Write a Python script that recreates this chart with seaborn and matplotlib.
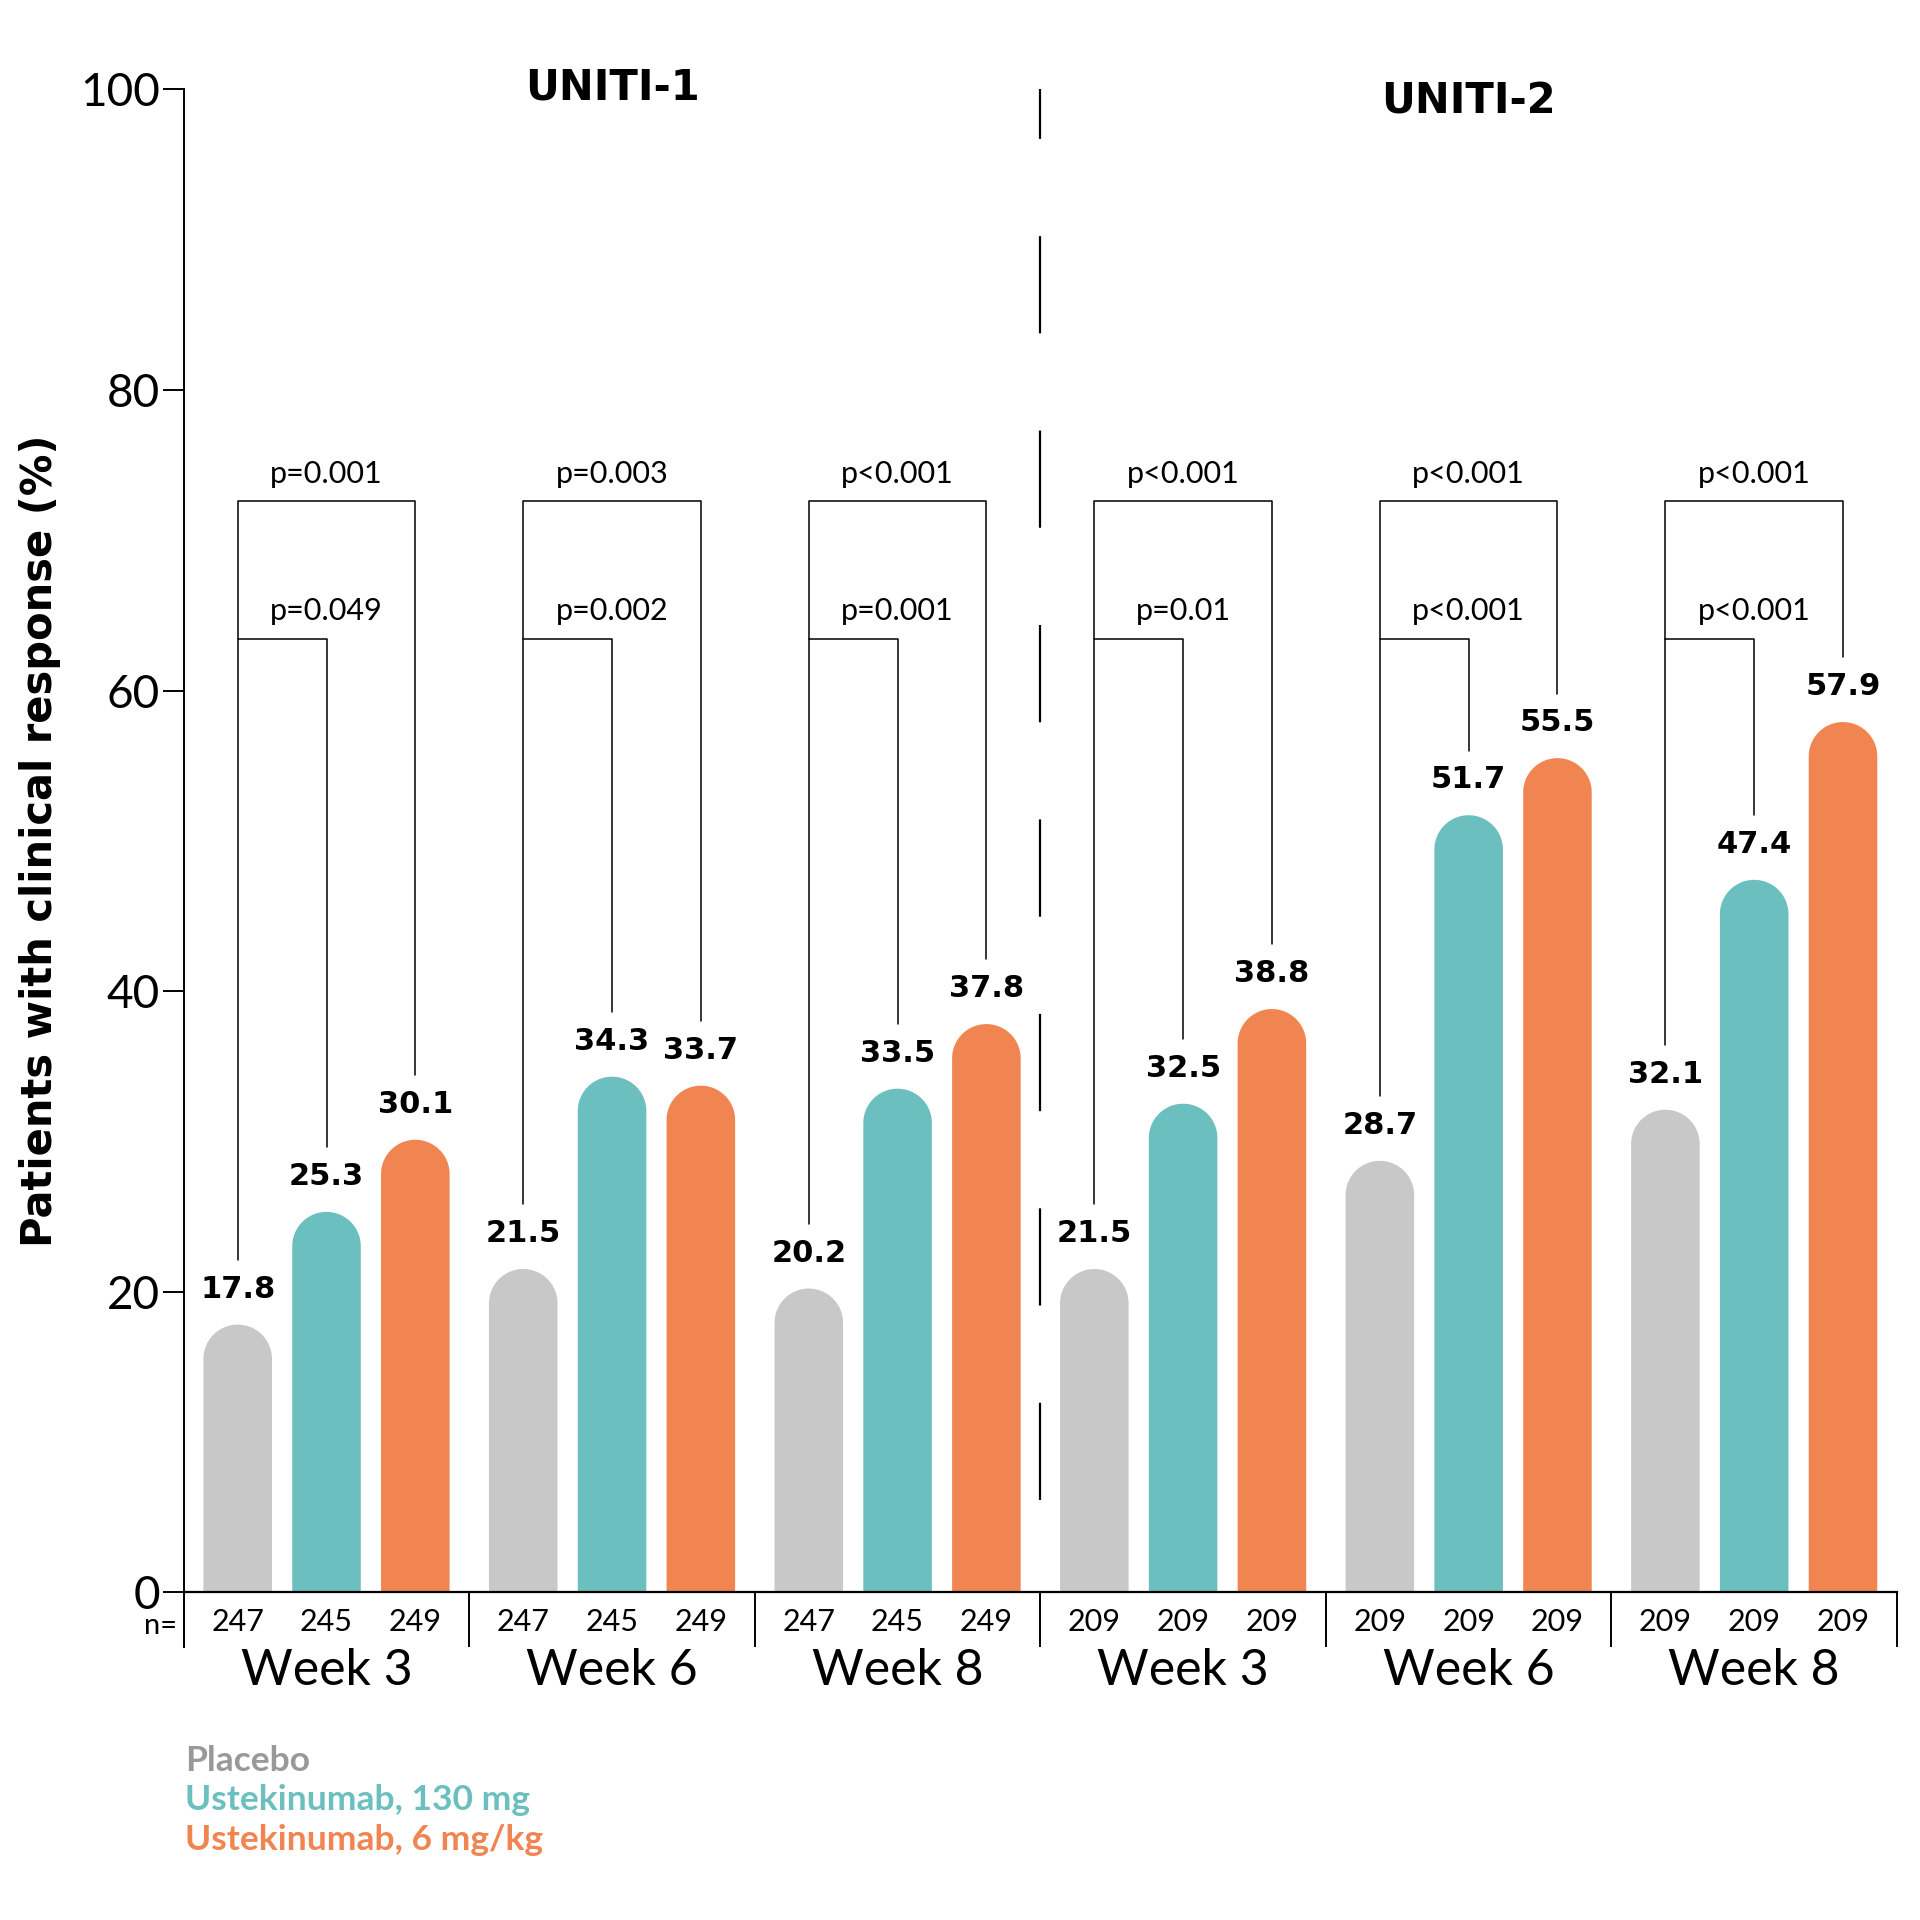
import numpy as np
import pandas as pd
import matplotlib
matplotlib.use("Agg")
import matplotlib.pyplot as plt
from matplotlib.path import Path
from matplotlib.patches import PathPatch
import seaborn as sns

# ---------------- data ----------------
groups = ["U1 W3", "U1 W6", "U1 W8", "U2 W3", "U2 W6", "U2 W8"]
week_labels = ["Week 3", "Week 6", "Week 8", "Week 3", "Week 6", "Week 8"]
treatments = ["Placebo", "Ustekinumab, 130 mg", "Ustekinumab, 6 mg/kg"]
placebo = [17.8, 21.5, 20.2, 21.5, 28.7, 32.1]
ust_130 = [25.3, 34.3, 33.5, 32.5, 51.7, 47.4]
ust_6 = [30.1, 33.7, 37.8, 38.8, 55.5, 57.9]
n_placebo = [247, 247, 247, 209, 209, 209]
n_130 = [245, 245, 245, 209, 209, 209]
n_6 = [249, 249, 249, 209, 209, 209]
p_outer = ["p=0.001", "p=0.003", "p<0.001", "p<0.001", "p<0.001", "p<0.001"]
p_inner = ["p=0.049", "p=0.002", "p=0.001", "p=0.01", "p<0.001", "p<0.001"]
trials = ["UNITI-1", "UNITI-2"]
y_ticks = [0, 20, 40, 60, 80, 100]

bar_colors = ["#c8c8c8", "#6bbfbf", "#f08551"]
legend_colors = ["#999999", "#6bbfbf", "#f08551"]

# --------------- figure ---------------
sns.set_style("white")
plt.rcParams["font.family"] = ["Lato", "DejaVu Sans"]
plt.rcParams["lines.scale_dashes"] = False
for key in ["text.color", "axes.labelcolor", "xtick.color", "ytick.color", "axes.edgecolor"]:
    plt.rcParams[key] = "black"

COND = ["Liberation Sans Narrow", "DejaVu Sans"]
THIN = ["Lato", "DejaVu Sans"]

fig = plt.figure(figsize=(19.2, 19.2), dpi=100)
ax = fig.add_axes([0.0957, 0.1708, 0.8923, 0.7826])

df = pd.DataFrame({
    "group": np.repeat(groups, 3),
    "treatment": treatments * len(groups),
    "value": np.ravel(np.column_stack([placebo, ust_130, ust_6])),
})

sns.barplot(data=df, x="group", y="value", hue="treatment", order=groups,
            hue_order=treatments, palette=bar_colors, width=0.933, gap=0.228,
            legend=False, ax=ax, saturation=1, errorbar=None, linewidth=0)

ax.set_xlim(-0.5, 5.5)
ax.set_ylim(0, 100)

# replace rectangles with round-topped bars
fig.canvas.draw()
bbox = ax.get_window_extent()
px_x = bbox.width / 6.0
px_y = bbox.height / 100.0
bars = list(ax.patches)
for p in bars:
    x0 = p.get_x()
    w = p.get_width()
    h = p.get_height()
    fc = p.get_facecolor()
    p.remove()
    rx = w / 2
    ry = rx * px_x / px_y
    cx = x0 + rx
    t = np.linspace(np.pi, 0, 60)
    arc = np.column_stack([cx + rx * np.cos(t), (h - ry) + ry * np.sin(t)])
    verts = np.vstack([[x0, 0], [x0, h - ry], arc, [x0 + w, 0], [x0, 0]])
    codes = [Path.MOVETO] + [Path.LINETO] * (len(verts) - 2) + [Path.CLOSEPOLY]
    ax.add_patch(PathPatch(Path(verts, codes), facecolor=fc, edgecolor="none", zorder=2))

# value labels
offsets = [-0.311, 0.0, 0.311]
series = [placebo, ust_130, ust_6]
for gi in range(len(groups)):
    for k in range(3):
        v = series[k][gi]
        ax.text(gi + offsets[k], v + 1.4, f"{v:.1f}", ha="center", va="bottom",
                fontsize=22, fontweight="bold", family=COND, color="black")

# significance brackets
y_out, y_in = 72.6, 63.4
leg_gap = 4.3
for gi in range(len(groups)):
    xg, xt, xo = gi + offsets[0], gi + offsets[1], gi + offsets[2]
    ax.plot([xg, xg, xo, xo], [placebo[gi] + leg_gap, y_out, y_out, ust_6[gi] + leg_gap],
            color="black", lw=1.1, zorder=3)
    ax.plot([xg, xt, xt], [y_in, y_in, ust_130[gi] + leg_gap],
            color="black", lw=1.1, zorder=3)
    ax.text(gi, y_out + 1.8, p_outer[gi], ha="center", va="center", fontsize=22,
            family=THIN, color="black")
    ax.text(gi, y_in + 1.9, p_inner[gi], ha="center", va="center", fontsize=22,
            family=THIN, color="black")

# dashed separator between trials
ax.plot([2.5, 2.5], [6.1, 100], color="black", lw=1.6, dashes=(70, 70), zorder=3,
        clip_on=False)

# trial titles
ax.text(1.0, 100.1, trials[0], ha="center", va="center", fontsize=30,
        fontweight="bold", family=COND, color="black")
ax.text(4.0, 99.2, trials[1], ha="center", va="center", fontsize=30,
        fontweight="bold", family=COND, color="black")

# axes styling
for s in ["top", "right"]:
    ax.spines[s].set_visible(False)
ax.spines["left"].set_linewidth(1.4)
ax.spines["bottom"].set_linewidth(1.6)
ax.spines["left"].set_bounds(-3.66, 100)
ax.set_yticks(y_ticks)
ax.set_yticklabels([str(t) for t in y_ticks], family=THIN)
ax.tick_params(axis="y", length=15, width=1.4, labelsize=33, pad=2, left=True,
               direction="out", colors="black")
ax.set_xticks([])
ax.set_xlabel("")
ax.set_ylabel("Patients with clinical response (%)", fontsize=30,
              fontweight="bold", family=COND, labelpad=14, color="black")

# group separators below axis
ax.vlines(np.arange(-0.5, 6.0, 1.0), -3.66, 0, color="black", lw=1.4, clip_on=False)

# n labels and week labels
ns = [n_placebo, n_130, n_6]
for gi in range(len(groups)):
    for k in range(3):
        ax.text(gi + offsets[k], -2.0, str(ns[k][gi]), ha="center", va="center",
                fontsize=22, family=THIN, color="black", clip_on=False)
    ax.text(gi, -5.25, week_labels[gi], ha="center", va="center", fontsize=36,
            family=THIN, color="black", clip_on=False)
ax.text(-0.522, -2.25, "n=", ha="right", va="center", fontsize=21, family=THIN,
        color="black", clip_on=False)

# legend text
for i, (lab, c) in enumerate(zip(treatments, legend_colors)):
    fig.text(185 / 1920, 1 - (1761 + 39.5 * i) / 1920, lab, color=c, fontsize=25.5,
             fontweight="bold", family=THIN, ha="left", va="center")

fig.savefig("out.png", dpi=100)
